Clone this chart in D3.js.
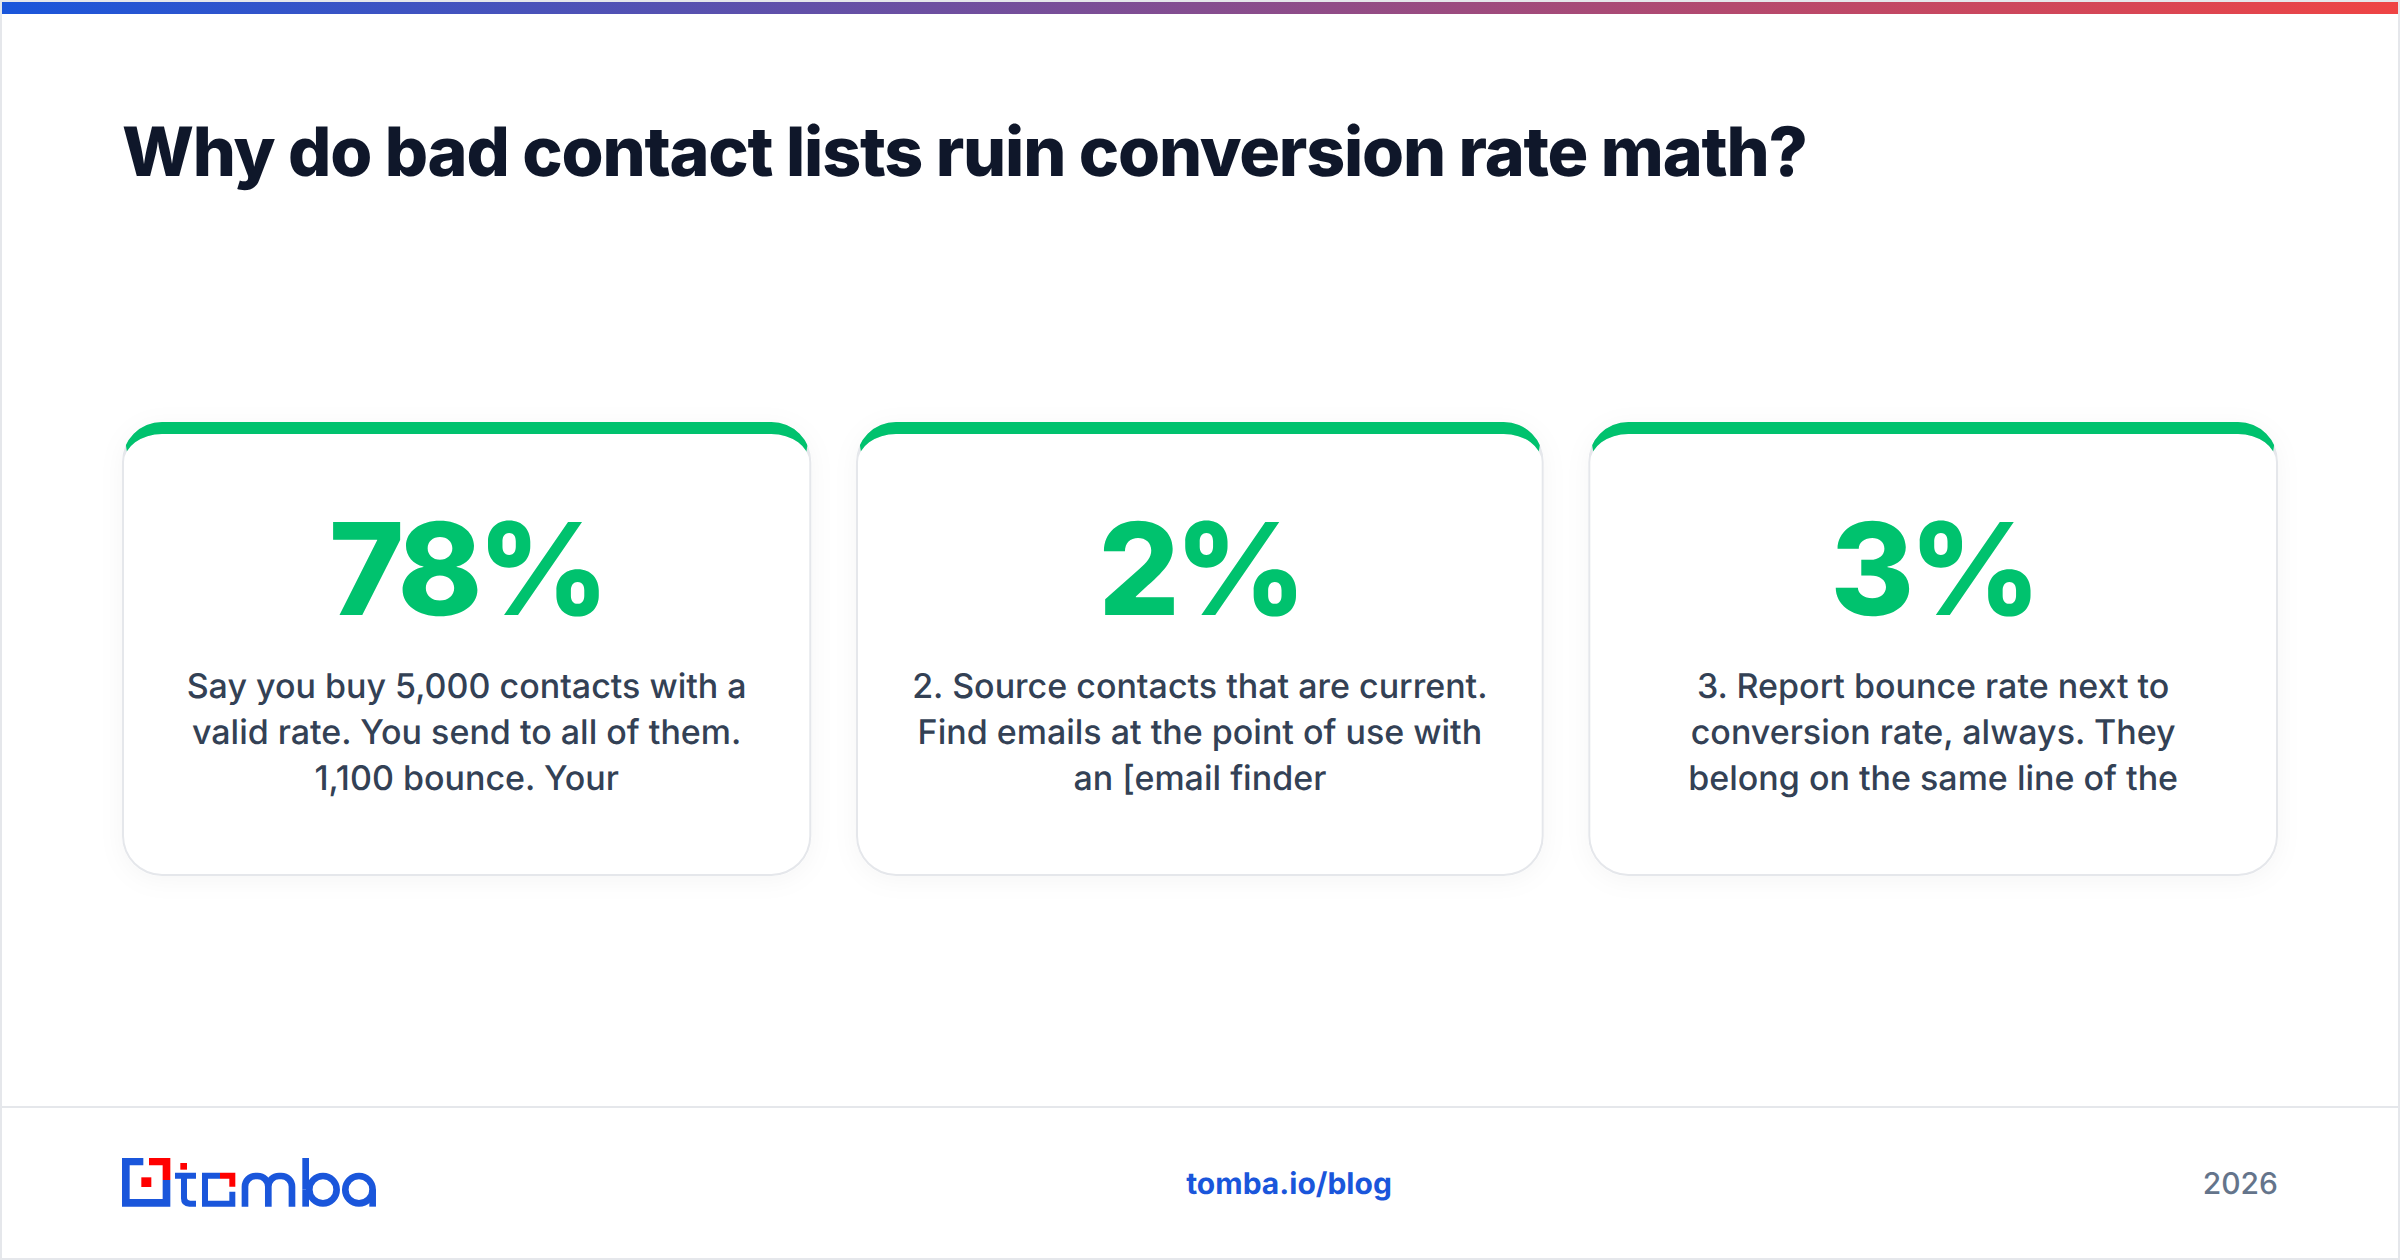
<!DOCTYPE html>
<html lang="en">
<head>
<meta charset="UTF-8">
<title>Why do bad contact lists ruin conversion rate math?</title>
<style>
  html, body { margin: 0; background: #fff; }
  svg { display: block; font-family: Inter, sans-serif; text-rendering: geometricPrecision; }
  .card-body { fill: #334155; font-size: 34px; font-weight: 500; text-anchor: middle; }
  .card-stat { fill: #00c26e; font-size: 128px; font-weight: 850; text-anchor: middle; letter-spacing: -5px; }
</style>
</head>
<body>
<script src="https://d3js.org/d3.v7.min.js"></script>
<script>
// chart content
const titleText = "Why do bad contact lists ruin conversion rate math?";
const cardIds = ["a", "b", "c"];
const cardStats = ["78%", "2%", "3%"];
const cardLines = [
  ["Say you buy 5,000 contacts with a", "valid rate. You send to all of them.", "1,100 bounce. Your"],
  ["2. Source contacts that are current.", "Find emails at the point of use with", "an [email finder"],
  ["3. Report bounce rate next to", "conversion rate, always. They", "belong on the same line of the"]
];
const footerLink = "tomba.io/blog";
const footerYear = "2026";

const width = 2400, height = 1260;
const blue = "#1a56db", red = "#ff0000", green = "#00c26e", line = "#e5e7eb";

const svg = d3.select("body").append("svg")
  .attr("width", width)
  .attr("height", height);

const defs = svg.append("defs");

const grad = defs.append("linearGradient").attr("id", "topbar");
grad.append("stop").attr("offset", 0).attr("stop-color", "#1a56db");
grad.append("stop").attr("offset", 1).attr("stop-color", "#ef4444");

const shadow = defs.append("filter").attr("id", "soft")
  .attr("x", "-10%").attr("y", "-10%").attr("width", "120%").attr("height", "125%");
shadow.append("feDropShadow")
  .attr("dx", 0).attr("dy", 4).attr("stdDeviation", 12)
  .attr("flood-color", "#000").attr("flood-opacity", 0.04);

// page frame, top bar and footer rule
svg.append("rect").attr("x", 1).attr("y", 1)
  .attr("width", width - 2).attr("height", height - 2)
  .attr("fill", "#fff").attr("stroke", line).attr("stroke-width", 2);
svg.append("rect").attr("x", 2).attr("y", 2)
  .attr("width", width - 4).attr("height", 12)
  .attr("fill", "url(#topbar)");
svg.append("rect").attr("x", 2).attr("y", 1106)
  .attr("width", width - 4).attr("height", 2)
  .attr("fill", line);

svg.append("text")
  .attr("x", 122).attr("y", 176)
  .attr("font-size", 68).attr("font-weight", 800)
  .attr("letter-spacing", -1.2)
  .attr("fill", "#0f172a")
  .text(titleText);

// cards: the three boxes are not quite equal in the reference
const cardX = d3.scaleOrdinal().domain(cardIds).range([122, 856, 1588.3]);
const cardW = d3.scaleOrdinal().domain(cardIds).range([689.3, 687.7, 689.7]);

const cardTop = 422, cardBottom = 876;
const r = 40, sideW = 2, topW = 12;

function roundedShape(x0, y0, x1, y1, rxTop, ryTop, rb) {
  return `M${x0 + rxTop},${y0}H${x1 - rxTop}A${rxTop},${ryTop} 0 0 1 ${x1},${y0 + ryTop}` +
    `V${y1 - rb}A${rb},${rb} 0 0 1 ${x1 - rb},${y1}H${x0 + rb}A${rb},${rb} 0 0 1 ${x0},${y1 - rb}` +
    `V${y0 + ryTop}A${rxTop},${ryTop} 0 0 1 ${x0 + rxTop},${y0}Z`;
}
const outerPath = w => roundedShape(0, cardTop, w, cardBottom, r, r, r);
const innerPath = w => roundedShape(sideW, cardTop + topW, w - sideW, cardBottom - sideW, r - sideW, r - topW, r - sideW);

const cards = svg.selectAll("g.card")
  .data(cardIds)
  .join("g")
  .attr("class", "card")
  .attr("transform", d => `translate(${cardX(d)},0)`);

cards.append("path").attr("d", d => outerPath(cardW(d))).attr("fill", "#fff").attr("filter", "url(#soft)");
cards.append("path").attr("d", d => outerPath(cardW(d)) + innerPath(cardW(d)))
  .attr("fill-rule", "evenodd").attr("fill", line);

// green top border, mitred against the side borders the way a css border is
const slope = topW / sideW, miterH = 40;
cards.append("clipPath").attr("id", d => `topBorderClip-${d}`)
  .append("polygon")
  .attr("points", d => [
    [0, cardTop], [cardW(d), cardTop],
    [cardW(d) - miterH / slope, cardTop + miterH], [miterH / slope, cardTop + miterH]
  ].join(" "));
cards.append("path")
  .attr("d", d => outerPath(cardW(d)) + innerPath(cardW(d)))
  .attr("fill-rule", "evenodd")
  .attr("fill", green)
  .attr("clip-path", d => `url(#topBorderClip-${d})`);

cards.append("text")
  .attr("class", "card-stat")
  .attr("x", d => cardW(d) / 2).attr("y", 615)
  .text((d, i) => cardStats[i]);

cards.each(function (d, i) {
  d3.select(this).selectAll("text.card-body")
    .data(cardLines[i])
    .join("text")
    .attr("class", "card-body")
    .attr("x", cardW(d) / 2)
    .attr("y", (t, j) => 698 + j * 46)
    .text(t => t);
});

// logo
const logo = svg.append("g")
  .attr("transform", "translate(90,1120) scale(0.3333)");
const blueFill = "#1a56db", redFill = "#ff0000";
logo.append("path").attr("fill", blueFill)
  .attr("d", "M96,114H160V136H119V237H218V180H241V260H96Z");
logo.append("path").attr("fill", redFill)
  .attr("d", "M177,114H241V180H218V136H177Z");
logo.append("rect").attr("x", 154).attr("y", 172).attr("width", 30).attr("height", 29).attr("fill", redFill);
logo.append("rect").attr("x", 271).attr("y", 129).attr("width", 20).attr("height", 20).attr("fill", redFill);
// t
logo.append("path").attr("fill", blueFill)
  .attr("d", "M255,158H318V176H291V232Q291,242 301,242H318V260H298Q273,260 273,235V176H255Z");
// o
logo.append("path").attr("fill", blueFill)
  .attr("d", "M336,158H390V176H354V242H418V215H436V260H336Z");
logo.append("path").attr("fill", redFill)
  .attr("d", "M390,158H436V200H418V176H390Z");
// m b a as strokes
const strokeStyle = g => g.attr("fill", "none").attr("stroke", blueFill).attr("stroke-width", 20);
logo.append("path").call(strokeStyle)
  .attr("d", "M465,260V200A32,32 0 0 1 497,168H503A32,32 0 0 1 535,200V260M535,200A32,32 0 0 1 567,168H574A32,32 0 0 1 606,200V260");
logo.append("path").call(strokeStyle)
  .attr("d", "M647,114V209");
logo.append("circle").call(strokeStyle).attr("cx", 699).attr("cy", 209).attr("r", 41);
logo.append("path").attr("fill", blueFill).attr("d", "M637,209H657V260H637Z");
logo.append("circle").call(strokeStyle).attr("cx", 807).attr("cy", 209).attr("r", 41);
logo.append("rect").attr("x", 838).attr("y", 209).attr("width", 20).attr("height", 51).attr("fill", blueFill);

// footer text
svg.append("text")
  .attr("x", 1289).attr("y", 1194)
  .attr("text-anchor", "middle")
  .attr("font-size", 30).attr("font-weight", 700)
  .attr("fill", blue)
  .text(footerLink);
svg.append("text")
  .attr("x", 2278).attr("y", 1194)
  .attr("text-anchor", "end")
  .attr("font-size", 30)
  .attr("font-weight", 500)
  .attr("fill", "#64748b")
  .text(footerYear);
</script>
</body>
</html>
